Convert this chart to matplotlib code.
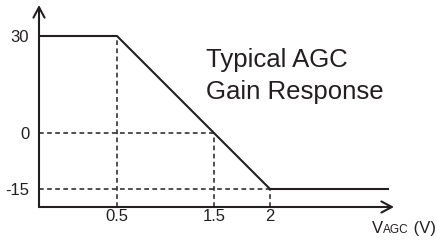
import numpy as np
import matplotlib
matplotlib.use("Agg")
import matplotlib.pyplot as plt

plt.rcParams["font.family"] = ["Liberation Sans", "DejaVu Sans"]

#? Data: piecewise AGC gain curve (schematic, not to scale)
vagc = [0, 0.5, 2, 3]
gain_db = [30, 30, -15, -15]
guide_x = [0.5, 1.5, 2]
guide_y = [30, 0, -15]
x_ticks = [0.5, 1.5, 2]
x_tick_labels = ["0.5", "1.5", "2"]
y_ticks = [30, 0, -15]
y_tick_labels = ["30", "0", "-15"]

INK = "#231f20"
W, H = 437, 241

# Schematic axes: piecewise-linear scales (value -> figure pixel)
x_knot_vals = [0, 0.5, 1.5, 2, 3, 3.042]
x_knot_px = [39, 117, 214, 270, 389, 394]
y_knot_vals = [-20, -15, 0, 30, 40]
y_knot_px = [34, 52, 108, 205, 236]


def make_scale(vals, px):
    fwd = lambda v: np.interp(v, vals, px)
    inv = lambda p: np.interp(p, px, vals)
    return fwd, inv


fig = plt.figure(figsize=(W / 100, H / 100), dpi=100)
ax = fig.add_axes([
    x_knot_px[0] / W, y_knot_px[0] / H,
    (x_knot_px[-1] - x_knot_px[0]) / W, (y_knot_px[-1] - y_knot_px[0]) / H,
])
ax.set_xscale("function", functions=make_scale(x_knot_vals, x_knot_px))
ax.set_yscale("function", functions=make_scale(y_knot_vals, y_knot_px))
ax.set_xlim(x_knot_vals[0], x_knot_vals[-1])
ax.set_ylim(y_knot_vals[0], y_knot_vals[-1])
for s in ax.spines.values():
    s.set_visible(False)
ax.patch.set_alpha(0)

#? Dashed guides
x0, y0 = ax.get_xlim()[0], ax.get_ylim()[0]
dash = dict(color=INK, lw=1.1, linestyle=(0, (3.1, 2.2)))
for gx, gy in zip(guide_x, guide_y):
    ax.plot([gx, gx], [y0, gy], **dash)
    if gx != guide_x[0]:
        ax.plot([x0, gx], [gy, gy], **dash)

#? Gain curve
ax.plot(vagc, gain_db, color=INK, lw=1.5, solid_capstyle="butt")

#? Axes with open arrow heads
arrow = dict(arrowstyle="->,head_length=0.75,head_width=0.4", lw=1.5, color=INK,
             shrinkA=0, shrinkB=0, mutation_scale=10)
ax.annotate("", xy=(0, 1), xytext=(0, 0), xycoords="axes fraction", arrowprops=arrow)
ax.annotate("", xy=(1, 0), xytext=(0, 0), xycoords="axes fraction", arrowprops=arrow)

#? Ticks
ax.set_xticks(x_ticks, x_tick_labels)
ax.set_yticks(y_ticks, y_tick_labels)
ax.minorticks_off()
ax.tick_params(axis="x", length=0, pad=1.5, labelsize=12, labelcolor=INK)
ax.tick_params(axis="y", length=0, pad=7, labelsize=12, labelcolor=INK)

#? Annotation text
fig.text(206 / W, 174 / H, "Typical AGC", fontsize=18.5, color=INK, va="baseline")
fig.text(206 / W, 142.5 / H, "Gain Response", fontsize=18.5, color=INK, va="baseline")

# Axis label V_AGC (V): smaller "AGC" on the same baseline
t1 = fig.text(372 / W, 8 / H, "V", fontsize=12, color=INK, va="baseline")
t2 = ax.annotate("AGC", xy=(1, 8), xycoords=(t1, "figure pixels"),
                 fontsize=8.5, color=INK, va="baseline", ha="left")
ax.annotate(" (V)", xy=(1, 8), xycoords=(t2, "figure pixels"),
            fontsize=12, color=INK, va="baseline", ha="left")

fig.savefig("out.png", dpi=100)
